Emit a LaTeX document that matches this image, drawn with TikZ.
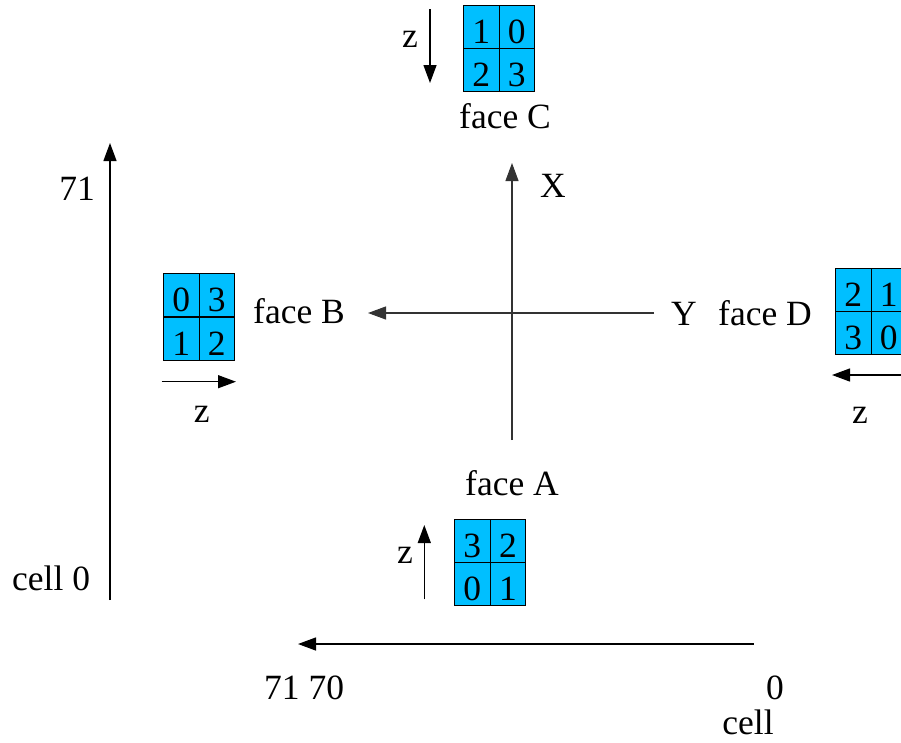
\documentclass[tikz,border=0pt]{standalone}
\usepackage{fontspec}
\setmainfont{Liberation Serif}
\usetikzlibrary{arrows.meta}
\definecolor{facecol}{RGB}{0,191,255}
\tikzset{
  cellbox/.style={draw=black, line width=0.9pt, fill=facecol, minimum width=35.5pt,
    minimum height=43pt, inner sep=0pt, text height=33pt, text depth=0pt},
  lbl/.style={anchor=base, inner sep=0pt},
  lblw/.style={anchor=base west, inner sep=0pt},
  axis/.style={line width=1.1pt, black!80, -{Triangle[length=18pt,width=13pt]}},
  zarrow/.style={line width=1.3pt, black, -{Triangle[length=18pt,width=13pt]}},
}
\begin{document}
\begin{tikzpicture}[x=1pt, y=-1pt, font=\fontsize{35.5}{40}\selectfont]
\useasboundingbox (0,0) rectangle (901,742);
\clip (0,0) rectangle (901,742);

% ---- face C (top) ----
\node[cellbox] (c1) at (481.2,26.7) {1};
\node[cellbox] (c0) at (516.7,26.7) {0};
\node[cellbox] (c2) at (481.2,69.7) {2};
\node[cellbox] (c3) at (516.7,69.7) {3};
\node[lbl] (faceC) at (505,128) {face C};
\coordinate (zCs) at (430,9);
\coordinate (zCe) at (430,83);
\draw[zarrow] (zCs) -- (zCe);
\node[lbl] (zC) at (410,47) {z};

% ---- face B (left) ----
\node[cellbox] (b0) at (181.2,295.3) {0};
\node[cellbox] (b3) at (216.7,295.3) {3};
\node[cellbox] (b1) at (181.2,338.7) {1};
\node[cellbox] (b2) at (216.7,338.7) {2};
\node[lblw] (faceB) at (253,323) {face B};
\coordinate (zBs) at (161.7,381.7);
\coordinate (zBe) at (236,381.7);
\draw[zarrow] (zBs) -- (zBe);
\node[lbl] (zB) at (201.7,422) {z};

% ---- face D (right) ----
\node[cellbox] (d2) at (853.2,289.7) {2};
\node[cellbox] (d1) at (888.7,289.7) {1};
\node[cellbox] (d3) at (853.2,332.7) {3};
\node[cellbox] (d0) at (888.7,332.7) {0};
\node[lbl] (Ylab) at (684,325) {Y};
\node[lblw] (faceD) at (718,325) {face D};
\coordinate (zDs) at (910,375);
\coordinate (zDe) at (832,375);
\draw[zarrow] (zDs) -- (zDe);
\node[lbl] (zD) at (860,423) {z};

% ---- face A (bottom) ----
\node[cellbox] (a3) at (472.2,540.7) {3};
\node[cellbox] (a2) at (507.9,540.7) {2};
\node[cellbox] (a0) at (472.2,583.7) {0};
\node[cellbox] (a1) at (507.9,583.7) {1};
\node[lbl] (faceA) at (512,495) {face A};
\coordinate (zAs) at (424.3,599.3);
\coordinate (zAe) at (424.3,525);
\draw[zarrow] (zAs) -- (zAe);
\node[lbl] (zA) at (405,563) {z};

% ---- central X / Y axes ----
\coordinate (xs) at (512,440);
\coordinate (xe) at (512,163);
\coordinate (ys) at (654,313);
\coordinate (ye) at (368,313);
\draw[axis] (xs) -- (xe);
\draw[axis] (ys) -- (ye);
\node[lbl] (Xlab) at (553,197) {X};

% ---- cell index axes ----
\coordinate (ls) at (110,600);
\coordinate (le) at (110,143);
\draw[zarrow] (ls) -- (le);
\node[lbl] (l71) at (77,200) {71};
\node[lblw] (lcell) at (12,590) {cell 0};

\coordinate (bs) at (753.6,644);
\coordinate (be) at (298,644);
\draw[zarrow] (bs) -- (be);
\node[lblw] (b7170) at (264,699) {71 70};
\node[lbl] (bzero) at (775,699) {0};
\node[lbl] (bcell) at (748,734) {cell};
\end{tikzpicture}
\end{document}
